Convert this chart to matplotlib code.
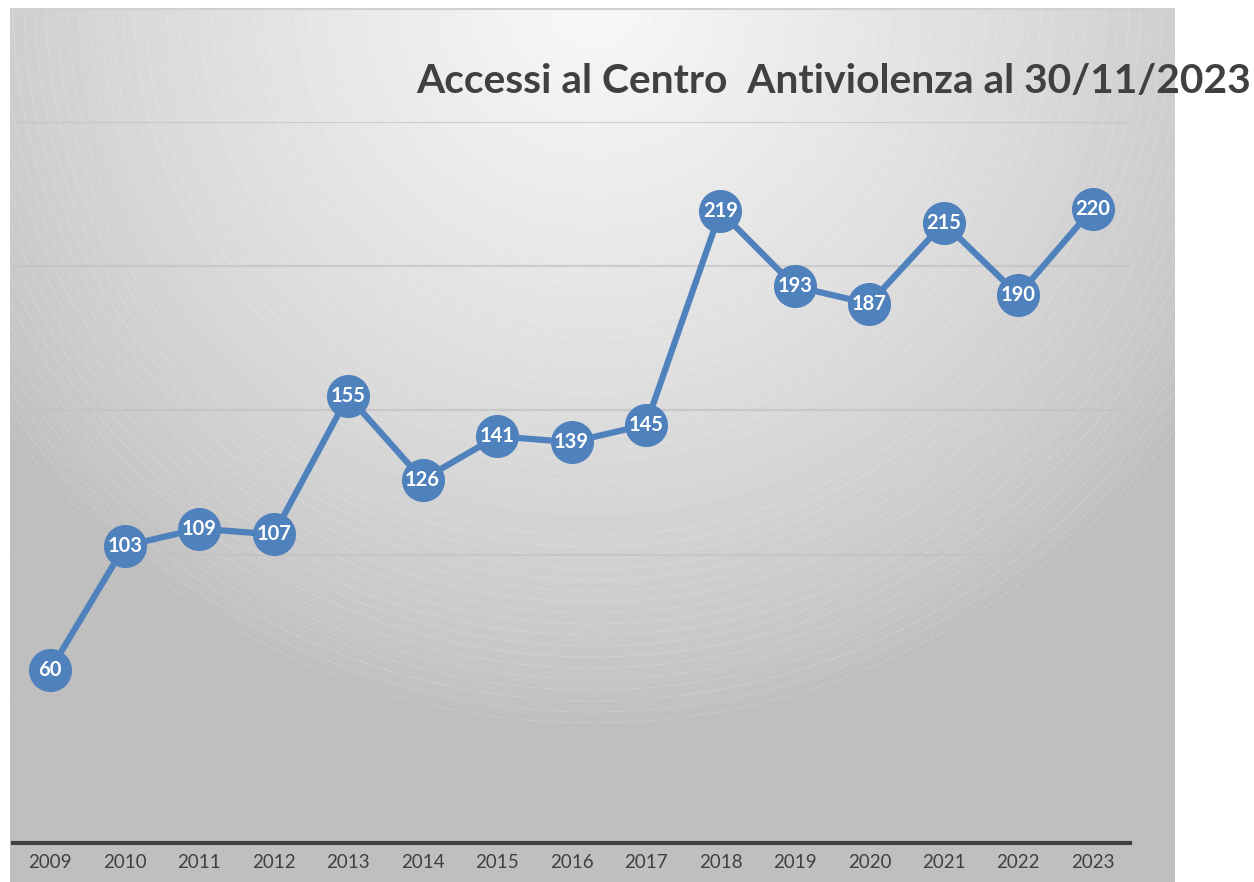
import numpy as np
import matplotlib.pyplot as plt

# dati
anni = ['2009', '2010', '2011', '2012', '2013', '2014', '2015', '2016',
        '2017', '2018', '2019', '2020', '2021', '2022', '2023']
accessi = [60, 103, 109, 107, 155, 126, 141, 139, 145, 219, 193, 187, 215, 190, 220]
titolo = 'Accessi al Centro  Antiviolenza al 30/11/2023'

plt.rcParams['font.family'] = ['Lato', 'DejaVu Sans']

W, H = 1254, 882
fig = plt.figure(figsize=(W / 100, H / 100), dpi=100)
fig.patch.set_facecolor('white')

# sfondo con sfumatura radiale (stile Excel)
bx0, by0, bx1, by1 = 10, 8, 1175, 882
ax_bg = fig.add_axes([bx0 / W, 0, (bx1 - bx0) / W, (by1 - by0) / H])
xx, yy = np.meshgrid(np.arange(bx0, bx1), np.arange(by0, by1))
cx, cy, R = 593, 0, 722
r = np.sqrt((xx - cx) ** 2 + (yy - cy) ** 2) / R
c = 191 + 57 * np.clip(1 - r, 0, 1) ** 0.8
ax_bg.imshow(c / 255, cmap='gray', vmin=0, vmax=1, aspect='auto',
             extent=[bx0, bx1, by1, by0], interpolation='bilinear')
t = np.linspace(0, np.pi, 500)
for rad in np.arange(250, 727, 11):
    ax_bg.plot(cx + rad * np.cos(t), cy + rad * np.sin(t), color='white',
               lw=0.5, alpha=0.3, ls=(0, (6, 3)))
ax_bg.axhline(by0 + 1, color='#D0D0D0', lw=1.5)
ax_bg.set_xlim(bx0, bx1)
ax_bg.set_ylim(by1, by0)
ax_bg.axis('off')

# grafico
ax = fig.add_axes([13 / W, (H - 843) / H, 1117 / W, (843 - 122) / H])
ax.patch.set_alpha(0)
x = np.arange(len(anni))
ax.plot(x, accessi, color='#4F81BD', lw=4.5, marker='o', markersize=30,
        markerfacecolor='#4F81BD', markeredgecolor='#4F81BD', zorder=3)
for xi, v in zip(x, accessi):
    ax.text(xi, v, str(v), ha='center', va='center', color='white',
            fontsize=14.5, fontweight='bold', zorder=4)

ax.set_xlim(-0.5, len(anni) - 0.5)
ax.set_ylim(0, 250)
ax.set_yticks([50, 100, 150, 200, 250])
ax.yaxis.grid(True, color='#C2C2C2', lw=1.6, alpha=0.7)
ax.set_axisbelow(True)
ax.tick_params(axis='y', left=False, labelleft=False)
ax.set_xticks(x)
ax.set_xticklabels(anni, fontsize=13.5, color='#404040')
ax.tick_params(axis='x', length=0, pad=8)
for s in ['top', 'right', 'left']:
    ax.spines[s].set_visible(False)
ax.spines['bottom'].set_color('#404040')
ax.spines['bottom'].set_linewidth(3)

fig.text(416 / W, (H - 93) / H, titolo, fontsize=29.3, fontweight='bold',
         color='#404040', ha='left', va='baseline')

fig.savefig('out.png', dpi=100)
